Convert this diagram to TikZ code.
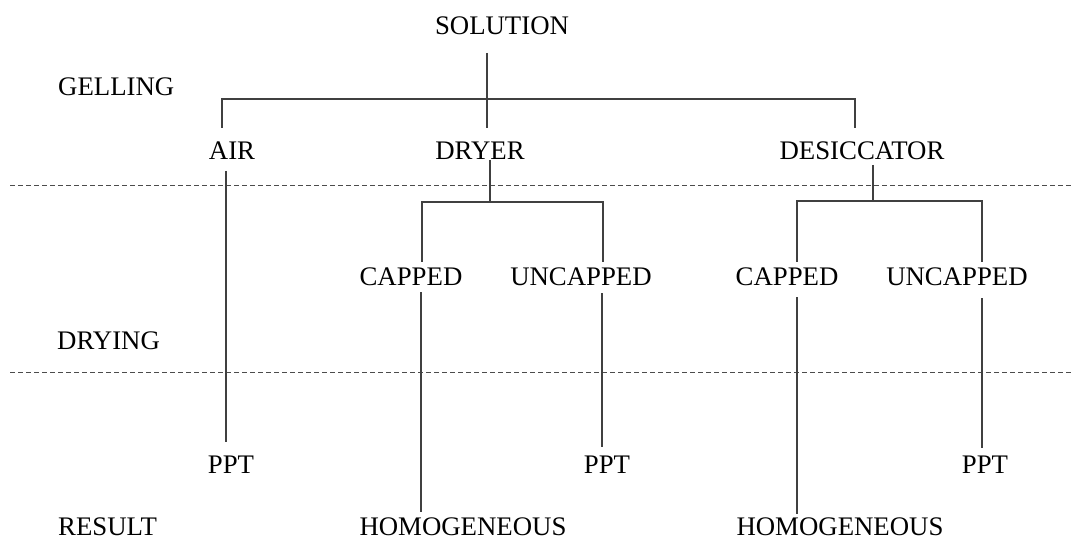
\documentclass[tikz,border=0pt]{standalone}
\usepackage{fontspec}
\setmainfont{Liberation Serif}
\usepackage{tikz}
\usetikzlibrary{positioning}

\begin{document}
\begin{tikzpicture}[
    x=1pt, y=-1pt,
    lbl/.style={font=\fontsize{26.8}{30}\selectfont, anchor=base, inner sep=0pt},
    stagelbl/.style={lbl, anchor=base west},
    link/.style={line width=1.3pt, draw=black!75},
    stageline/.style={line width=0.9pt, draw=black!70, dash pattern=on 5pt off 3pt},
]
\useasboundingbox (0,0) rectangle (1074,540);

% Stage labels
\node[stagelbl] (gelling) at (58,96) {GELLING};
\node[stagelbl] (drying) at (57,349) {DRYING};
\node[stagelbl] (result) at (58,535) {RESULT};

% Nodes
\node[lbl] (solution) at (502,35) {SOLUTION};
\node[lbl] (air) at (232,160) {AIR};
\node[lbl] (dryer) at (480,160) {DRYER};
\node[lbl] (desic) at (862,160) {DESICCATOR};
\node[lbl] (dcap) at (411,285) {CAPPED};
\node[lbl] (dunc) at (581,285) {UNCAPPED};
\node[lbl] (scap) at (787,285) {CAPPED};
\node[lbl] (sunc) at (957,285) {UNCAPPED};
\node[lbl] (ppt1) at (231,473) {PPT};
\node[lbl] (ppt2) at (607,473) {PPT};
\node[lbl] (ppt3) at (985,473) {PPT};
\node[lbl] (homo1) at (463,535) {HOMOGENEOUS};
\node[lbl] (homo2) at (840,535) {HOMOGENEOUS};

% Line ends
\coordinate (solution-out) at (487,53);
\coordinate (dryer-in) at (487,128);
\coordinate (air-in) at (222,128);
\coordinate (desic-in) at (855,128);
\coordinate (gel-bar) at (487,99);
\coordinate (dryer-out) at (490,160);
\coordinate (dry-bar) at (490,202);
\coordinate (dcap-in) at (422,262);
\coordinate (dunc-in) at (603,262);
\coordinate (desic-out) at (873,165);
\coordinate (des-bar) at (873,201);
\coordinate (scap-in) at (797,262);
\coordinate (sunc-in) at (982,262);
\coordinate (air-out) at (226,171);
\coordinate (ppt1-in) at (226,442);
\coordinate (dcap-out) at (421,292);
\coordinate (homo1-in) at (421,512);
\coordinate (dunc-out) at (602,293);
\coordinate (ppt2-in) at (602,447);
\coordinate (scap-out) at (797,297);
\coordinate (homo2-in) at (797,514);
\coordinate (sunc-out) at (982,298);
\coordinate (ppt3-in) at (982,448);

% Stage borders
\draw[stageline] (10,185) -- (1074,185);
\draw[stageline] (10,372) -- (1074,372);

% Gelling
\draw[link] (solution-out) -- (dryer-in);
\draw[link] (air-in) |- (gel-bar) -| (desic-in);

% Drying
\draw[link] (dryer-out) -- (dry-bar);
\draw[link] (dcap-in) |- (dry-bar) -| (dunc-in);
\draw[link] (desic-out) -- (des-bar);
\draw[link] (scap-in) |- (des-bar) -| (sunc-in);

% Results
\draw[link] (air-out) -- (ppt1-in);
\draw[link] (dcap-out) -- (homo1-in);
\draw[link] (dunc-out) -- (ppt2-in);
\draw[link] (scap-out) -- (homo2-in);
\draw[link] (sunc-out) -- (ppt3-in);

\end{tikzpicture}
\end{document}
